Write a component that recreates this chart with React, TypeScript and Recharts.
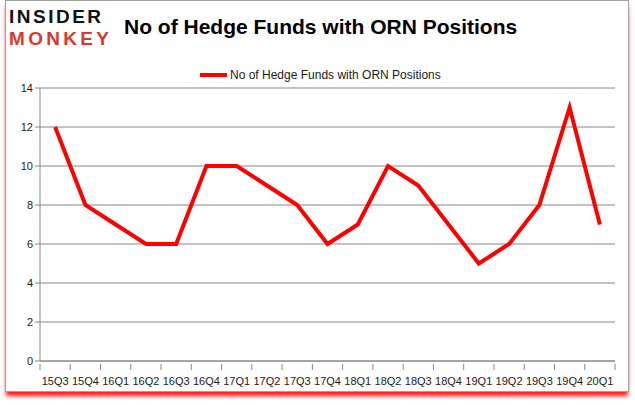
import React from 'react';
import { LineChart, Line, XAxis, YAxis, CartesianGrid } from 'recharts';

const quarters = [
  '15Q3', '15Q4', '16Q1', '16Q2', '16Q3', '16Q4', '17Q1', '17Q2', '17Q3', '17Q4',
  '18Q1', '18Q2', '18Q3', '18Q4', '19Q1', '19Q2', '19Q3', '19Q4', '20Q1',
];
const hedgeFunds = [12, 8, 7, 6, 6, 10, 10, 9, 8, 6, 7, 10, 9, 7, 5, 6, 8, 13, 7];
const yTicks = [0, 2, 4, 6, 8, 10, 12, 14];

const seriesName = 'No of Hedge Funds with ORN Positions';

const data = quarters.map((q, i) => ({ q, value: hedgeFunds[i] }));

const W = 635;
const H = 405;
const PLOT_LEFT = 40;
const PLOT_RIGHT = 615;
const band = (PLOT_RIGHT - PLOT_LEFT) / quarters.length;
const axisColor = '#868686';
const font = '"Liberation Sans", Arial, sans-serif';

// category ticks sit between the labels, like the original spreadsheet chart
const QuarterTick = (props: any) => {
  const { x, y, payload, index } = props;
  const last = index === quarters.length - 1;
  return (
    <g>
      <line x1={x - band / 2} y1={y - 5} x2={x - band / 2} y2={y + 1} stroke={axisColor} />
      {last && <line x1={x + band / 2} y1={y - 5} x2={x + band / 2} y2={y + 1} stroke={axisColor} />}
      <text x={x} y={y + 16} textAnchor="middle" fontSize={11} fill="#1a1a1a" fontFamily={font}>
        {payload.value}
      </text>
    </g>
  );
};

export default function App() {
  return (
    <div style={{ position: 'absolute', left: 0, top: 0, width: W, height: H, background: '#fff', fontFamily: font }}>
      {/* frame with the red drop shadow */}
      <div
        style={{
          position: 'absolute', left: 5, top: 0, width: 624, height: 392,
          border: '1px solid #a0a0a0', boxSizing: 'border-box',
          boxShadow: '0 5px 4px -1px #ff1a1a', background: '#fff',
        }}
      />
      <div style={{ position: 'absolute', left: 9, top: 6, lineHeight: '21px', fontWeight: 'bold', fontSize: 19, letterSpacing: 2.5, color: '#111' }}>
        INSIDER
      </div>
      <div style={{ position: 'absolute', left: 9, top: 28, lineHeight: '21px', fontWeight: 'bold', fontSize: 19, letterSpacing: 3.3, color: '#d9382b' }}>
        MONKEY
      </div>
      <div
        style={{
          position: 'absolute', left: 124, top: 15, fontSize: 21, fontWeight: 'bold', color: '#000',
          lineHeight: '24px',
        }}
      >
        {seriesName}
      </div>
      <div style={{ position: 'absolute', left: 200, top: 68, display: 'flex', alignItems: 'center' }}>
        <div style={{ width: 27, height: 4, background: '#ff0000', marginRight: 3 }} />
        <span style={{ fontSize: 12, color: '#1a1a1a' }}>{seriesName}</span>
      </div>
      <div style={{ position: 'absolute', left: 0, top: 0 }}>
        <LineChart
          width={W}
          height={H}
          data={data}
          margin={{ top: 88, right: W - PLOT_RIGHT, bottom: 14, left: 10 }}
        >
          <CartesianGrid vertical={false} stroke={axisColor} strokeDasharray="" />
          <XAxis
            dataKey="q"
            height={30}
            stroke={axisColor}
            tickLine={false}
            tick={<QuarterTick />}
            interval={0}
            padding={{ left: band / 2, right: band / 2 }}
          />
          <YAxis
            width={30}
            domain={[0, 14]}
            ticks={yTicks}
            stroke={axisColor}
            tickSize={5}
            tick={{ fontSize: 11, fill: '#1a1a1a', fontFamily: font }}
          />
          <Line
            type="linear"
            dataKey="value"
            stroke="#ff0000"
            strokeWidth={4}
            dot={false}
            isAnimationActive={false}
          />
        </LineChart>
      </div>
    </div>
  );
}
